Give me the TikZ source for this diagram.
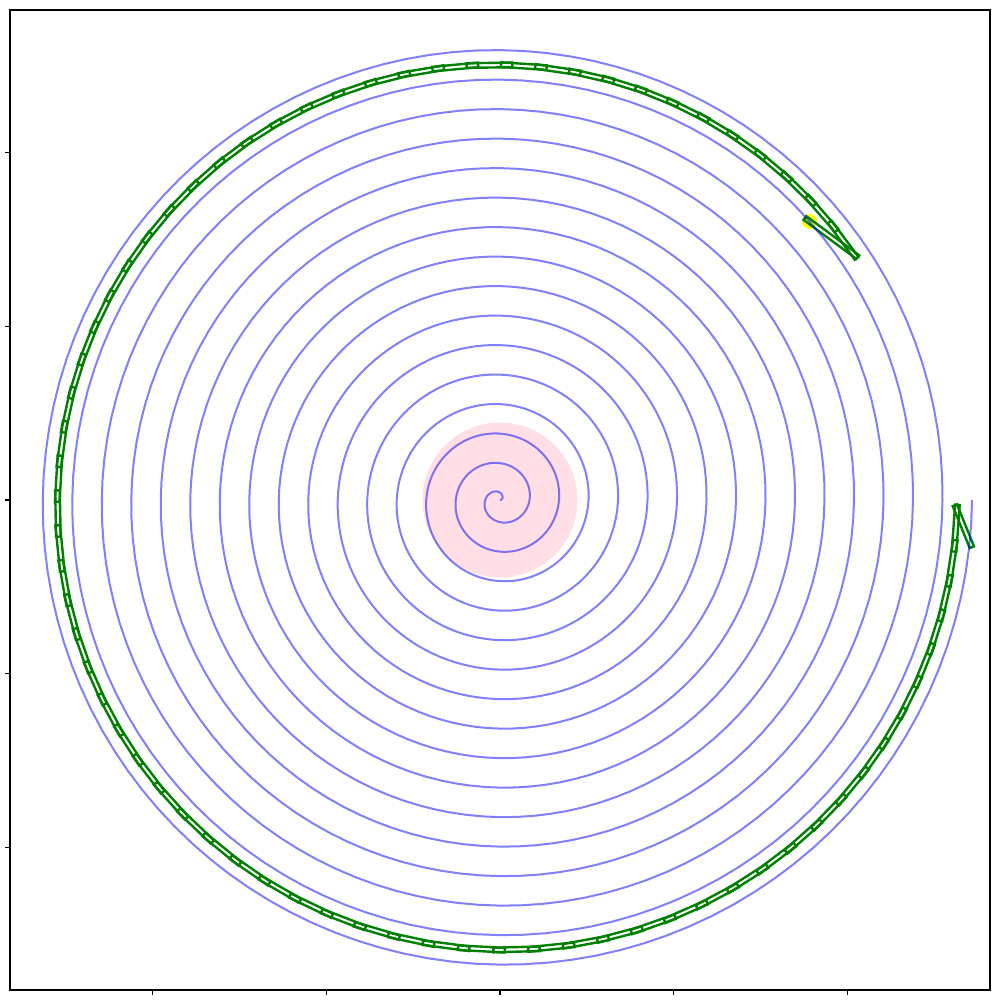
\documentclass[tikz,border=0pt]{standalone}
\usepackage{tikz}
\usetikzlibrary{calc}
\definecolor{Sc}{HTML}{0000FF}
\definecolor{Bc}{HTML}{008000}
\definecolor{Tc}{HTML}{FFC0CB}
\definecolor{Hc}{HTML}{FFFF00}
\tikzset{
  groove/.style={draw=Sc, draw opacity=0.5, line width=2pt},
  bench/.style={draw=Bc, line width=2.4pt, line join=miter},
  turnzone/.style={fill=Tc, fill opacity=0.5},
  headdot/.style={circle, fill=Hc, inner sep=0pt, minimum size=15pt},
  axbox/.style={line width=1.1pt},
  axtick/.style={line width=1.1pt},
}
\newcommand{\pitch}{29.5}
\newcommand{\ext}{5.7pt}
\newcommand{\hw}{2.3pt}
\newcommand{\benchlink}[2]{%
  \draw[bench] ($(#1)!-\ext!(#2)!\hw!90:(#2)$) -- ($(#2)!-\ext!(#1)!\hw!-90:(#1)$)
    -- ($(#2)!-\ext!(#1)!\hw!90:(#1)$) -- ($(#1)!-\ext!(#2)!\hw!-90:(#2)$) -- cycle;}

\begin{document}
\begin{tikzpicture}[x=1pt,y=1pt]
  \useasboundingbox (-500,-500) rectangle (500,500);
  % joints: head on the outer groove, body on the inner one (angles in degrees)
  \coordinate (j0) at (41.98:{\pitch*(14+41.98/360)});
  \xdef\phig{5434.89}
  \coordinate (j1) at (\phig:{\pitch*(\phig/360-0.5)});
  \foreach \i in {2,...,73}{
    \pgfmathsetmacro{\stp}{ifthenelse(\i<54,4.519,4.44)}
    \pgfmathsetmacro{\nphi}{\phig+\stp}
    \xdef\phig{\nphi}
    \coordinate (j\i) at (\phig:{\pitch*(\phig/360-0.5)});}
  \coordinate (jt) at (-5.1:{\pitch*(16-5.1/360)});
  \fill[turnzone] (0,0) circle (77.5);
  \node[headdot] (head) at (j0) {};
  \benchlink{j0}{j1}
  \foreach \i [evaluate=\i as \k using int(\i+1)] in {1,...,72}{\benchlink{j\i}{j\k}}
  \benchlink{j73}{jt}
  \draw[groove] plot[domain=0:5760, samples=1921] (\x:{\pitch*(\x/360)});
  \draw[axbox] (-490,-490) rectangle (490,490);
  \foreach \t in {-347.3,-173.7,0,173.7,347.3}{
    \draw[axtick] (\t,-490) -- (\t,-495);
    \draw[axtick] (-490,\t) -- (-495,\t);}
\end{tikzpicture}
\end{document}
